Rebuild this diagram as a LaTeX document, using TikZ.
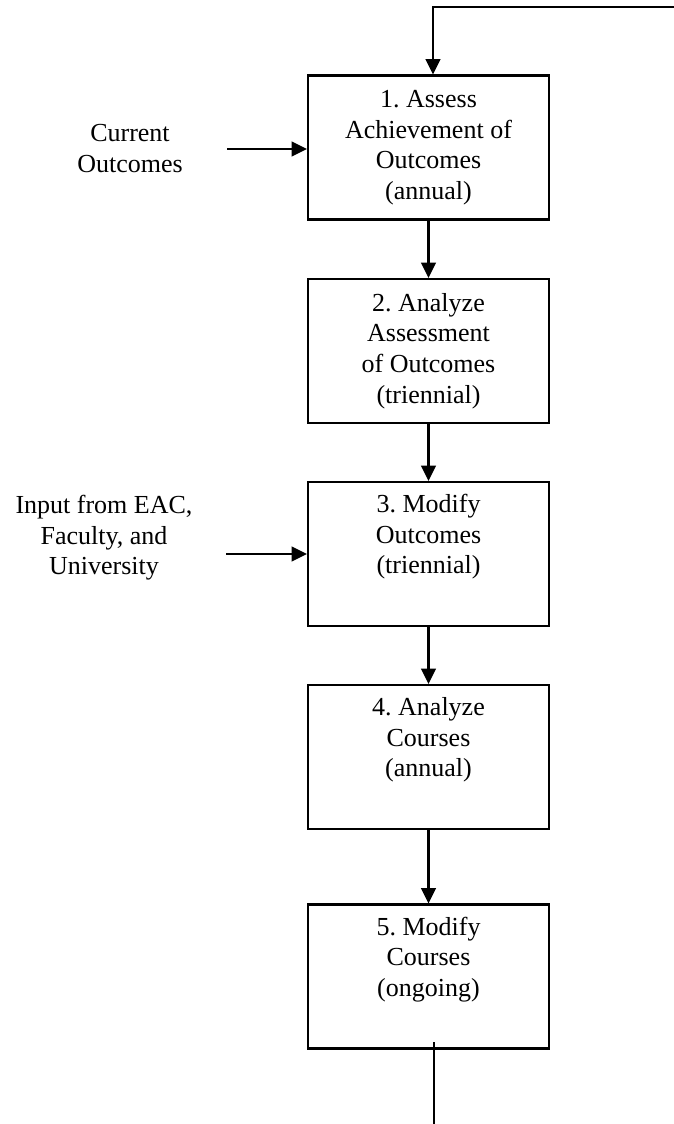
\documentclass[tikz,border=0pt]{standalone}
\usepackage{fontspec}
\setmainfont{Liberation Serif}
\usetikzlibrary{arrows.meta,calc}
\frenchspacing
\begin{document}
\begin{tikzpicture}[x=0.75pt,y=-0.75pt,
  txt/.style={font=\fontsize{19.5pt}{22.9pt}\selectfont},
  box/.style={txt, draw, line width=1.7pt, minimum width=180.75pt, minimum height=108pt, inner sep=0pt, align=center},
  lbl/.style={txt, align=center, inner sep=0pt},
  conn/.style={line width=1.7pt, -{Triangle[length=11.5pt,width=11pt]}},
  wire/.style={line width=1.7pt}]
\useasboundingbox (0,0) rectangle (674,1124);

\node[box] (b1) at (428.5,147.5) {1. Assess\\Achievement of\\Outcomes\\(annual)};
\node[box] (b2) at (428.5,351) {2. Analyze\\Assessment\\of Outcomes\\(triennial)};
\node[box] (b3) at (428.5,554) {3. Modify\\Outcomes\\(triennial)\\\strut};
\node[box] (b4) at (428.5,757) {4. Analyze\\Courses\\(annual)\\\strut};
\node[box] (b5) at (428.5,976.5) {5. Modify\\Courses\\(ongoing)\\\strut};

\node[lbl] (cur) at (130,148.5) {Current\\Outcomes};
\node[lbl] (inp) at (104,538) {Input from EAC,\\Faculty, and\\University};

\coordinate (a1) at (227,149);
\coordinate (a3) at (226,554);
\draw[conn] (a1) -- (a1 -| b1.west);
\draw[conn] (a3) -- (a3 -| b3.west);

\draw[conn] (b1.south) -- (b2.north);
\draw[conn] (b2.south) -- (b3.north);
\draw[conn] (b3.south) -- (b4.north);
\draw[conn] (b4.south) -- (b5.north);

\coordinate (tr) at (674,7);
\coordinate (t1) at (433,7);
\draw[conn] (tr) -- (t1) -- (t1 |- b1.north);

\coordinate (bs) at (434,1042);
\coordinate (be) at (434,1124);
\draw[wire] (bs) -- (be);
\end{tikzpicture}
\end{document}
